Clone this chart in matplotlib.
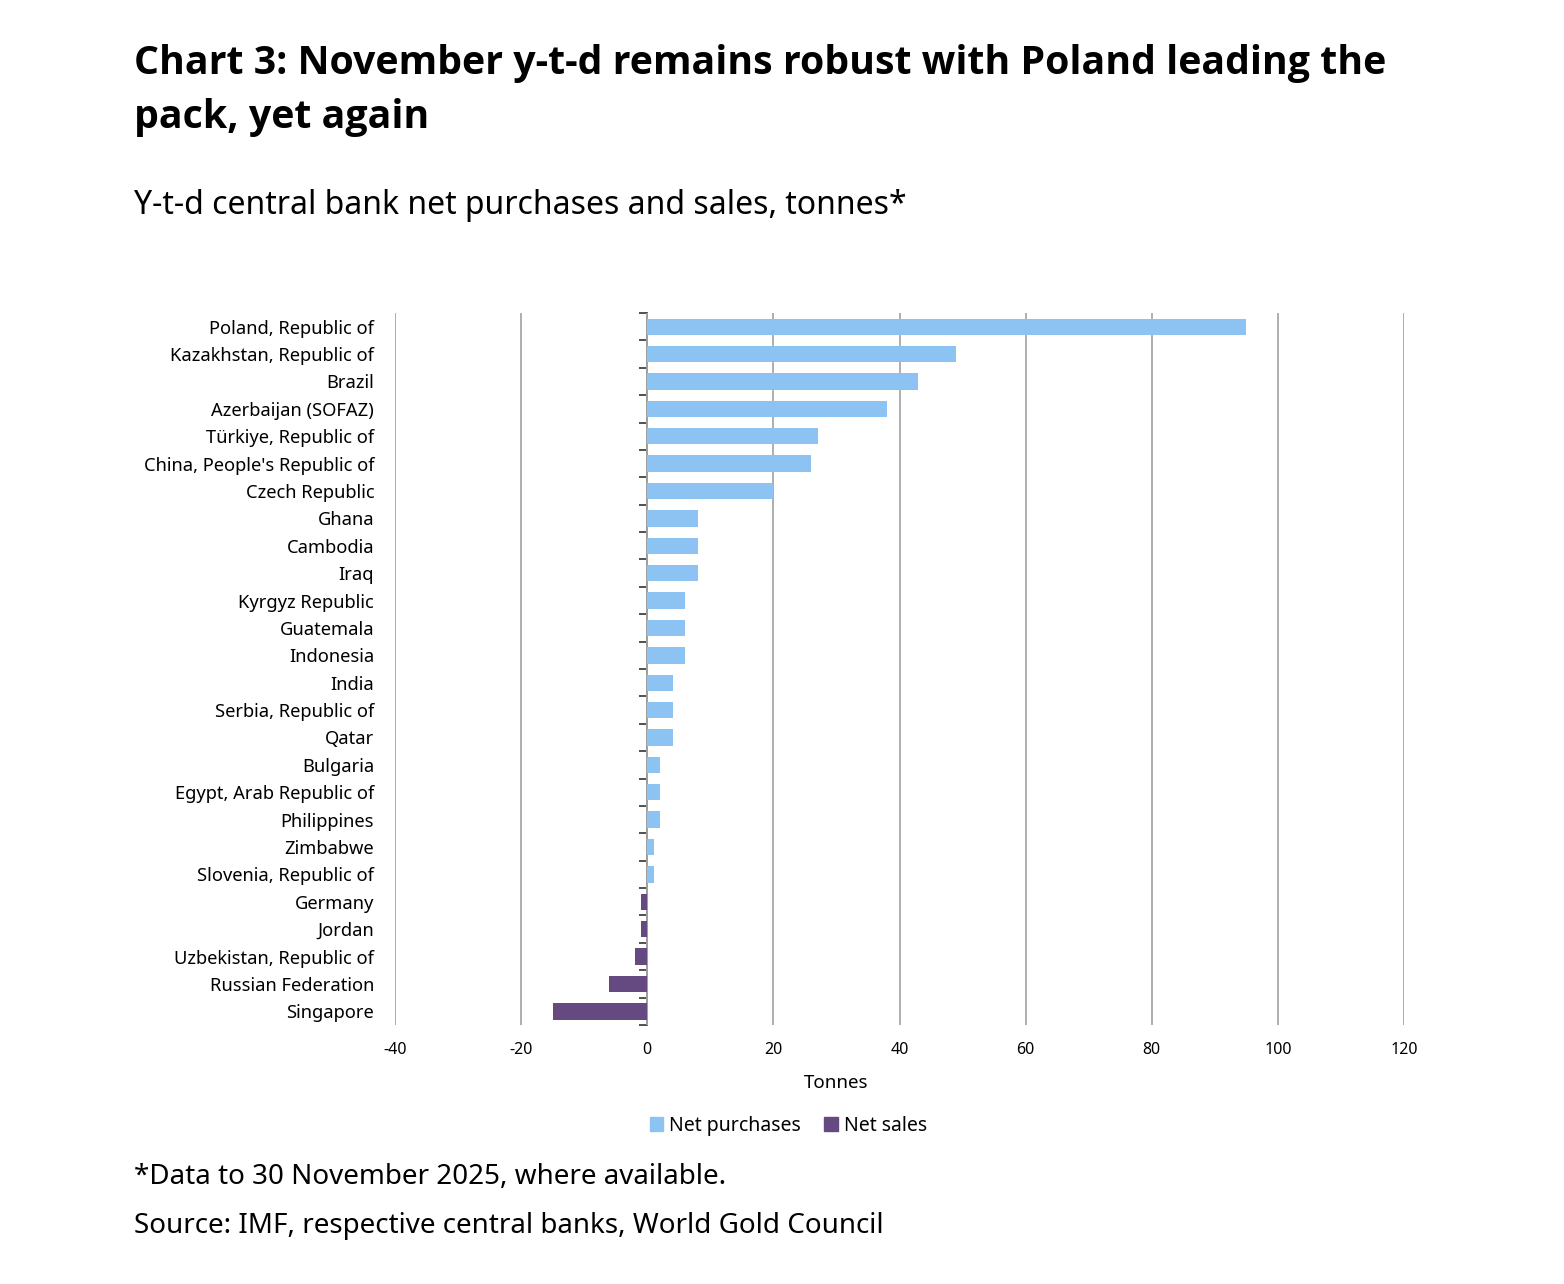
import numpy as np
import matplotlib.pyplot as plt
from matplotlib.patches import Patch
from matplotlib import font_manager

plt.rcParams['font.family'] = ['Noto Sans', 'DejaVu Sans']

# data (tonnes, y-t-d)
countries = ["Poland, Republic of", "Kazakhstan, Republic of", "Brazil",
             "Azerbaijan (SOFAZ)", "Türkiye, Republic of",
             "China, People's Republic of", "Czech Republic", "Ghana",
             "Cambodia", "Iraq", "Kyrgyz Republic", "Guatemala", "Indonesia",
             "India", "Serbia, Republic of", "Qatar", "Bulgaria",
             "Egypt, Arab Republic of", "Philippines", "Zimbabwe",
             "Slovenia, Republic of", "Germany", "Jordan",
             "Uzbekistan, Republic of", "Russian Federation", "Singapore"]
tonnes = [95, 49, 43, 38, 27, 26, 20, 8, 8, 8, 6, 6, 6, 4, 4, 4, 2, 2, 2,
          1, 1, -1, -1, -2, -6, -15]
x_ticks = [-40, -20, 0, 20, 40, 60, 80, 100, 120]

blue = "#8DC3F2"
purple = "#654A82"

# pick a family that really has a bold face
bold_family = 'Open Sans'
for fam in ['Noto Sans', 'Open Sans', 'Lato']:
    path = font_manager.findfont(font_manager.FontProperties(family=fam, weight='bold'))
    if 'bold' in path.lower():
        bold_family = fam
        break

fig = plt.figure(figsize=(15.64, 12.84), dpi=100)
ax = fig.add_axes([0.2526, 0.2017, 0.6451, 0.5545])

vals = np.array(tonnes)
ypos = np.arange(len(countries))
cols = [blue if v > 0 else purple for v in vals]
ax.barh(ypos, vals, height=0.6, color=cols, zorder=3)

ax.set_xlim(-40, 120)
ax.set_ylim(len(countries) - 0.5, -0.5)
ax.set_xticks(x_ticks)
ax.set_xticklabels([str(t) for t in x_ticks], fontsize=11.5)
ax.set_yticks(ypos)
ax.set_yticklabels(countries, fontsize=13.2)
ax.tick_params(axis='y', length=0, pad=15)
ax.tick_params(axis='x', length=0, pad=12)
for s in ax.spines.values():
    s.set_visible(False)
ax.grid(axis='x', color="#A8A8A8", linewidth=1.3, zorder=0)
ax.set_xlabel("Tonnes", fontsize=13.5)
ax.xaxis.set_label_coords(0.437, -0.069)

# zero axis with category tick marks
sec = ax.secondary_yaxis(0.25)
sec.set_yticks(np.arange(len(countries) + 1) - 0.5)
sec.set_yticklabels([])
sec.tick_params(axis='y', length=6, width=1.2, color="#333333", direction='out')
sec.spines['left'].set_color("#333333")
sec.spines['left'].set_linewidth(1.2)

handles = [Patch(color=blue, label="Net purchases"),
           Patch(color=purple, label="Net sales")]
fig.legend(handles=handles, loc='center', bbox_to_anchor=(0.504, 0.123),
           ncol=2, frameon=False, fontsize=14, handlelength=0.7,
           handleheight=0.7, handletextpad=0.3, columnspacing=1.2)

fig.text(0.0857, 0.966, "Chart 3: November y-t-d remains robust with Poland leading the\npack, yet again",
         fontsize=28.3, fontweight='bold', family=bold_family, va='top', ha='left',
         linespacing=1.5)
fig.text(0.0857, 0.840, "Y-t-d central bank net purchases and sales, tonnes*",
         fontsize=23, va='center', ha='left')
fig.text(0.0857, 0.0835, "*Data to 30 November 2025, where available.",
         fontsize=20, va='center', ha='left')
fig.text(0.0857, 0.0455, "Source: IMF, respective central banks, World Gold Council",
         fontsize=20, va='center', ha='left')

fig.savefig("out.png", dpi=100, facecolor='white')
